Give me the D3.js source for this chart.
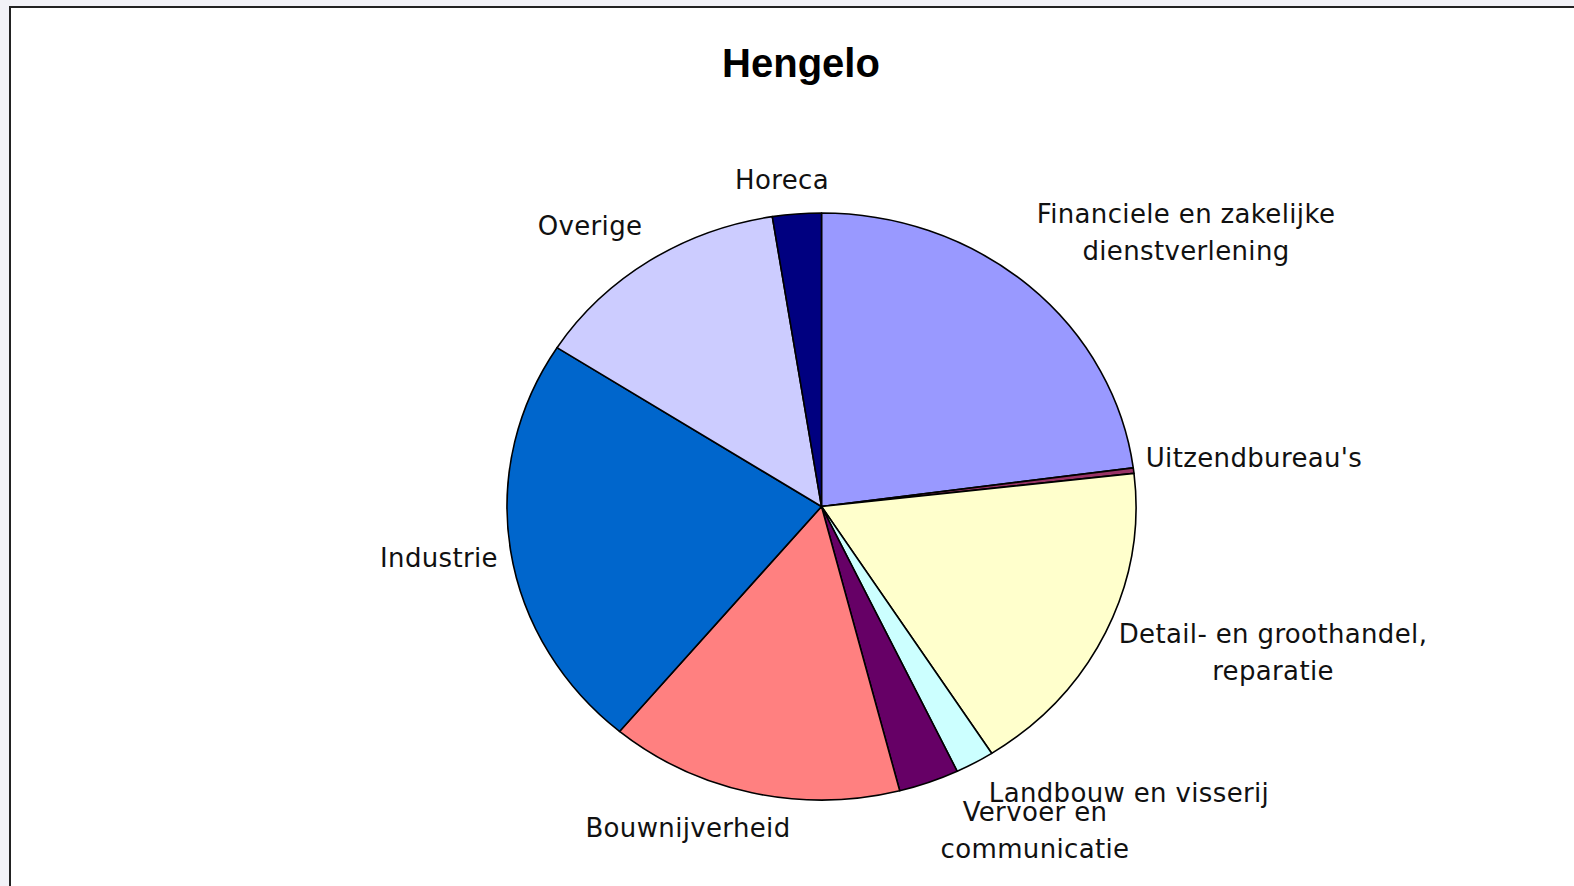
<!DOCTYPE html>
<html>
<head>
<meta charset="utf-8">
<script src="https://cdn.jsdelivr.net/npm/d3@7"></script>
<style>
  body { margin: 0; background: #f2f2f7; }
  svg { display: block; }
  .label { font-family: "DejaVu Sans", Verdana, sans-serif; font-size: 26px; letter-spacing: 0.35px; fill: #111; }
  .title { font-family: "Liberation Sans", Arial, sans-serif; font-size: 40px; font-weight: bold; fill: #000; }
</style>
</head>
<body>
<div id="chart"></div>
<script>
// sectors, clockwise from 12 o'clock (share in %)
var sectors = ["Financiele en zakelijke dienstverlening", "Uitzendbureau's",
    "Detail- en groothandel, reparatie", "Landbouw en visserij",
    "Vervoer en communicatie", "Bouwnijverheid", "Industrie", "Overige", "Horeca"];
var shares = [22.9, 0.3, 17.7, 2.0, 3.1, 15.1, 23.0, 13.4, 2.5];
var sliceColors = ["#9999ff", "#993366", "#ffffcc", "#ccffff", "#660066",
    "#ff8080", "#0066cc", "#ccccff", "#000080"];
// label lines as printed in the chart
var labelLines = [["Financiele en zakelijke", "dienstverlening"], ["Uitzendbureau's"],
    ["Detail- en groothandel,", "reparatie"], ["Landbouw en visserij"],
    ["Vervoer en", "communicatie"], ["Bouwnijverheid"], ["Industrie"], ["Overige"], ["Horeca"]];

var W = 1574, H = 886;
var cx = 821.5, cy = 506.5, rx = 314.5, ry = 293.5;

var svg = d3.select("#chart").append("svg")
    .attr("width", W).attr("height", H);

// chart area with its frame
svg.append("rect")
    .attr("x", 10).attr("y", 7)
    .attr("width", W).attr("height", H)
    .attr("fill", "#fff")
    .attr("stroke", "#222")
    .attr("stroke-width", 2);

svg.append("text")
    .attr("class", "title")
    .attr("x", 801).attr("y", 77)
    .attr("text-anchor", "middle")
    .text("Hengelo");

var data = sectors.map(function(s, i) {
    return {name: s, value: shares[i], color: sliceColors[i], lines: labelLines[i]};
});

var pie = d3.pie()
    .sort(null)
    .value(function(d) { return d.value; });

var arc = d3.arc().innerRadius(0).outerRadius(ry);

// Excel drew the pie slightly wider than tall
var g = svg.append("g")
    .attr("transform", "translate(" + cx + "," + cy + ") scale(" + (rx / ry) + ",1)");

var arcs = pie(data);

g.selectAll("path")
    .data(arcs)
    .enter().append("path")
    .attr("d", arc)
    .attr("fill", function(d) { return d.data.color; })
    .attr("stroke", "#000")
    .attr("stroke-width", 1.6)
    .attr("stroke-linejoin", "round")
    .attr("vector-effect", "non-scaling-stroke");

// label centres / first baselines measured from the chart
var labelX = [1186, 1254, 1273, 1129, 1035, 688, 439, 590, 782];
var labelY = [223, 467, 643, 802, 821, 837, 567, 235, 189];

var labels = svg.selectAll("text.label")
    .data(arcs)
    .enter().append("text")
    .attr("class", "label")
    .attr("text-anchor", "middle")
    .attr("x", function(d, i) { return labelX[i]; })
    .attr("y", function(d, i) { return labelY[i]; });

labels.selectAll("tspan")
    .data(function(d, i) { return d.data.lines.map(function(l) { return {t: l, x: labelX[i]}; }); })
    .enter().append("tspan")
    .attr("x", function(d) { return d.x; })
    .attr("dy", function(d, j) { return j === 0 ? 0 : 37; })
    .text(function(d) { return d.t; });
</script>
</body>
</html>
